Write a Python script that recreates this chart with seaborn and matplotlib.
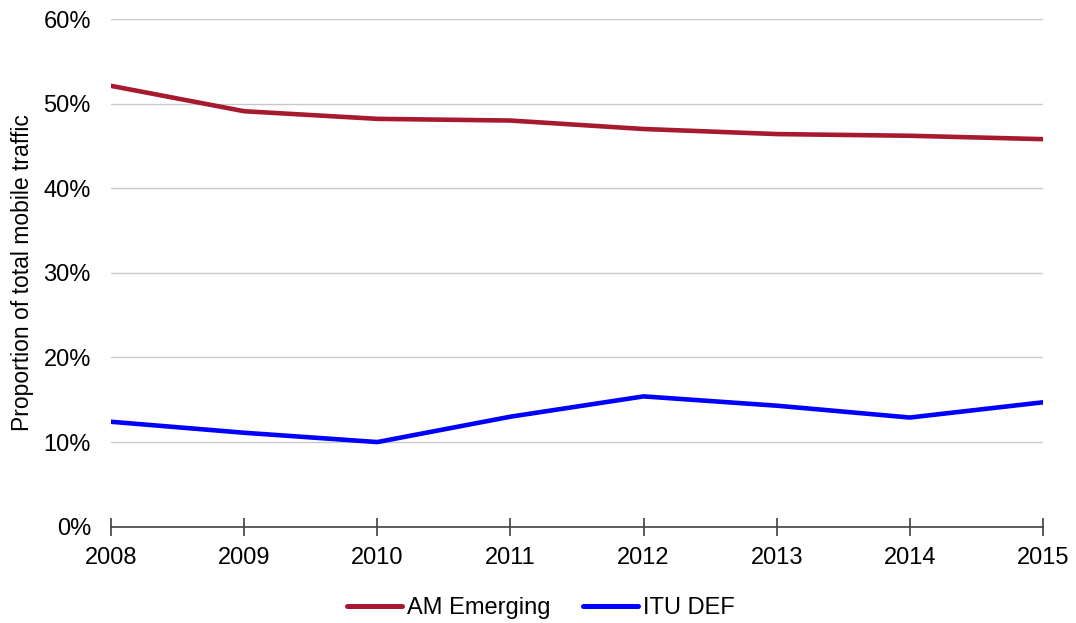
import matplotlib
matplotlib.use("Agg")
import matplotlib.pyplot as plt
from matplotlib.ticker import PercentFormatter
import seaborn as sns
import pandas as pd

years = [2008, 2009, 2010, 2011, 2012, 2013, 2014, 2015]
am_emerging = [52.1, 49.1, 48.2, 48.0, 47.0, 46.4, 46.2, 45.8]
itu_def = [12.4, 11.1, 10.0, 13.0, 15.4, 14.3, 12.9, 14.7]
series_names = ["AM Emerging", "ITU DEF"]
y_ticks = [0, 10, 20, 30, 40, 50, 60]

df = pd.DataFrame({
    "year": years * 2,
    "share": am_emerging + itu_def,
    "series": [series_names[0]] * len(years) + [series_names[1]] * len(years),
})

sns.set_theme(style="white")
plt.rcParams["font.family"] = ["Liberation Sans", "DejaVu Sans"]
plt.rcParams["text.color"] = "black"

FS = 17

fig = plt.figure(figsize=(10.76, 6.23), dpi=100)
ax = fig.add_axes([0.1032, 0.1546, 0.8661, 0.8149])

palette = {series_names[0]: "#A6192E", series_names[1]: "#0000FF"}
sns.lineplot(data=df, x="year", y="share", hue="series", palette=palette,
             linewidth=3.3, ax=ax, legend=True)

ax.set_xlim(years[0], years[-1])
ax.set_ylim(0, 60)
ax.set_yticks(y_ticks)
ax.yaxis.set_major_formatter(PercentFormatter(decimals=0))
ax.set_xticks(years)
ax.set_xticklabels([str(y) for y in years])
ax.grid(axis="y", color="#C8C8C8", linewidth=1)
ax.set_axisbelow(True)

for s in ["top", "right", "left"]:
    ax.spines[s].set_visible(False)
ax.spines["bottom"].set_color("#404040")
ax.spines["bottom"].set_linewidth(1.2)

ax.tick_params(axis="x", bottom=True, direction="inout", length=13, width=1.2,
               color="#404040", labelsize=FS, pad=8, labelcolor="black")
ax.tick_params(axis="y", left=False, length=0, labelsize=FS, pad=14.5, labelcolor="black")

ax.set_xlabel("")
ax.set_ylabel("Proportion of total mobile traffic", fontsize=16.5, color="black", labelpad=7)

handles, labels = ax.get_legend_handles_labels()
leg = ax.legend(handles, labels, loc="center", bbox_to_anchor=(0.461, -0.161),
                ncol=2, frameon=False, fontsize=FS, handlelength=2.33,
                handletextpad=0.21, columnspacing=1.36)
for line in leg.get_lines():
    line.set_linewidth(3.6)
for t in leg.get_texts():
    t.set_color("black")

fig.savefig("out.png", dpi=100)
